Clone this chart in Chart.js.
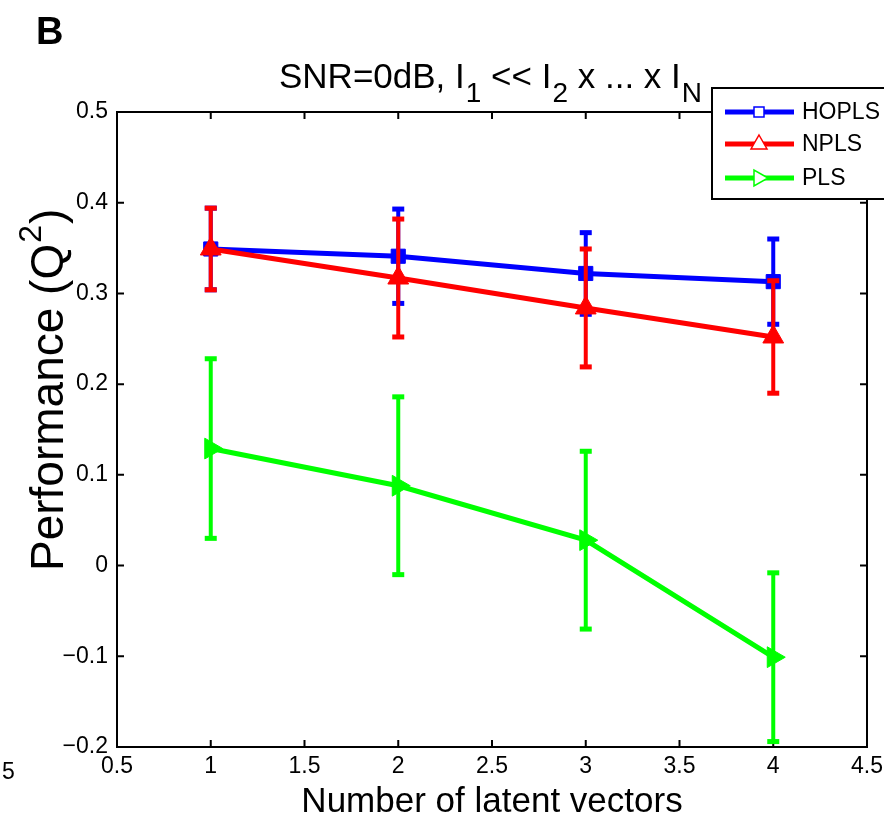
<!DOCTYPE html>
<html>
<head>
<meta charset="utf-8">
<script src="https://cdn.jsdelivr.net/npm/chart.js@4"></script>
<style>
  html, body { margin: 0; padding: 0; background: #fff; }
  #wrap { width: 884px; height: 822px; position: relative; }
</style>
</head>
<body>
<div id="wrap"><canvas id="chart" width="884" height="822"></canvas></div>
<script>
// Data ================================================================================================================
const latentVectors = [1, 2, 3, 4];

const hoplsMean = [0.349, 0.341, 0.322, 0.313];
const hoplsErr  = [0.045, 0.052, 0.045, 0.047];

const nplsMean  = [0.349, 0.317, 0.284, 0.252];
const nplsErr   = [0.045, 0.065, 0.065, 0.062];

const plsMean   = [0.129, 0.088, 0.028, -0.101];
const plsErr    = [0.099, 0.098, 0.098, 0.093];

const xTicks = [0.5, 1, 1.5, 2, 2.5, 3, 3.5, 4, 4.5];
const yTicks = [-0.2, -0.1, 0, 0.1, 0.2, 0.3, 0.4, 0.5];

const seriesNames = ['HOPLS', 'NPLS', 'PLS'];
const seriesColors = ['#0000ff', '#ff0000', '#00ff00'];
const seriesErrors = [hoplsErr, nplsErr, plsErr];
// =====================================================================================================================

const FONT = '"Liberation Sans", Arial, Helvetica, sans-serif';

function fmt(v) {
    const r = Math.round(v * 10) / 10;
    if (r === 0) return '0';
    return (r < 0 ? '\u2212' : '') + String(Math.abs(r));
}

function points(means) {
    return latentVectors.map((x, i) => ({ x: x, y: means[i] }));
}

// error bars, drawn just before each dataset so the later series cover the earlier ones
const errorBars = {
    id: 'errorBars',
    beforeDatasetDraw(chart, args) {
        const ctx = chart.ctx;
        const xs = chart.scales.x, ys = chart.scales.y;
        const ds = chart.data.datasets[args.index];
        const errs = seriesErrors[args.index];
        ctx.save();
        ctx.strokeStyle = ds.borderColor;
        ctx.fillStyle = ds.borderColor;
        ctx.lineWidth = 4;
        ds.data.forEach((p, i) => {
            const px = xs.getPixelForValue(p.x);
            const top = ys.getPixelForValue(p.y + errs[i]);
            const bot = ys.getPixelForValue(p.y - errs[i]);
            ctx.beginPath();
            ctx.moveTo(px, top);
            ctx.lineTo(px, bot);
            ctx.stroke();
            ctx.fillRect(px - 6, top - 2.5, 12, 5);
            ctx.fillRect(px - 6, bot - 2.5, 12, 5);
        });
        ctx.restore();
    }
};

// MATLAB style box with inward ticks, plus title and axis labels
const frame = {
    id: 'frame',
    beforeDatasetsDraw(chart) {
        const ctx = chart.ctx;
        const a = chart.chartArea;
        const xs = chart.scales.x, ys = chart.scales.y;
        ctx.save();
        ctx.strokeStyle = '#000';
        ctx.lineWidth = 2;
        ctx.strokeRect(a.left, a.top, a.right - a.left, a.bottom - a.top);
        ctx.beginPath();
        xTicks.forEach(v => {
            const px = xs.getPixelForValue(v);
            ctx.moveTo(px, a.bottom); ctx.lineTo(px, a.bottom - 7);
            ctx.moveTo(px, a.top); ctx.lineTo(px, a.top + 7);
        });
        yTicks.forEach(v => {
            const py = ys.getPixelForValue(v);
            ctx.moveTo(a.left, py); ctx.lineTo(a.left + 7, py);
            ctx.moveTo(a.right, py); ctx.lineTo(a.right - 7, py);
        });
        ctx.stroke();
        ctx.restore();
    },
    afterDraw(chart) {
        const ctx = chart.ctx;
        const a = chart.chartArea;
        ctx.save();
        ctx.fillStyle = '#000';

        // panel letter
        ctx.font = 'bold 38px ' + FONT;
        ctx.textAlign = 'left';
        ctx.textBaseline = 'alphabetic';
        ctx.fillText('B', 36, 44);

        // title with subscripts
        const parts = [
            ['SNR=0dB, I', 0], ['1', 1], [' << I', 0], ['2', 1], [' x ... x I', 0], ['N', 1]
        ];
        const big = '35px ' + FONT, small = '28px ' + FONT;
        let w = 0;
        parts.forEach(p => { ctx.font = p[1] ? small : big; w += ctx.measureText(p[0]).width; });
        let x = (a.left + a.right) / 2 - w / 2 - 3;
        parts.forEach(p => {
            ctx.font = p[1] ? small : big;
            ctx.fillText(p[0], x + (p[1] ? 1 : 0), p[1] ? 102 : 88);
            x += ctx.measureText(p[0]).width + (p[1] ? 1 : 0);
        });

        // x label
        ctx.font = '35px ' + FONT;
        ctx.textAlign = 'center';
        ctx.fillText('Number of latent vectors', (a.left + a.right) / 2, 812);

        // y label with superscript
        ctx.save();
        ctx.translate(63, 571);
        ctx.rotate(-Math.PI / 2);
        ctx.textAlign = 'left';
        ctx.font = '46px ' + FONT;
        let tx = 0;
        ctx.fillText('Performance (Q', tx, 0);
        tx += ctx.measureText('Performance (Q').width;
        ctx.font = '32px ' + FONT;
        ctx.fillText('2', tx + 1, -22);
        tx += ctx.measureText('2').width + 2;
        ctx.font = '46px ' + FONT;
        ctx.fillText(')', tx, 0);
        ctx.restore();

        // stray tick label from neighbouring panel
        ctx.font = '23px ' + FONT;
        ctx.textAlign = 'left';
        ctx.fillText('5', 2, 779);

        // legend
        const lx = 712, ly = 88, lw = 180, lh = 111;
        ctx.fillStyle = '#fff';
        ctx.fillRect(lx, ly, lw, lh);
        ctx.strokeStyle = '#000';
        ctx.lineWidth = 2;
        ctx.strokeRect(lx, ly, lw, lh);
        const rows = [112, 144, 178];
        seriesNames.forEach((name, i) => {
            const y = rows[i];
            const c = seriesColors[i];
            ctx.strokeStyle = c;
            ctx.lineWidth = 5;
            ctx.beginPath();
            ctx.moveTo(725, y); ctx.lineTo(794, y);
            ctx.stroke();
            // hollow marker
            const mx = 759;
            ctx.fillStyle = '#fff';
            ctx.lineWidth = 1.5;
            ctx.beginPath();
            if (i === 0) {
                ctx.rect(mx - 5, y - 5, 10, 10);
            } else if (i === 1) {
                ctx.moveTo(mx, y - 9); ctx.lineTo(mx + 8, y + 5); ctx.lineTo(mx - 8, y + 5); ctx.closePath();
            } else {
                ctx.moveTo(mx + 9, y); ctx.lineTo(mx - 5, y - 8); ctx.lineTo(mx - 5, y + 8); ctx.closePath();
            }
            ctx.fill();
            ctx.stroke();
            ctx.fillStyle = '#000';
            ctx.font = '23px ' + FONT;
            ctx.textAlign = 'left';
            ctx.textBaseline = 'middle';
            ctx.fillText(name, 802, y + 1);
        });
        ctx.restore();
    }
};

new Chart(document.getElementById('chart'), {
    type: 'line',
    data: {
        datasets: [
            {
                label: 'HOPLS', data: points(hoplsMean), order: 3,
                borderColor: seriesColors[0], backgroundColor: seriesColors[0],
                borderWidth: 5, pointStyle: 'rect', pointRadius: 10, pointBorderWidth: 1
            },
            {
                label: 'NPLS', data: points(nplsMean), order: 2,
                borderColor: seriesColors[1], backgroundColor: seriesColors[1],
                borderWidth: 5, pointStyle: 'triangle', pointRadius: 12, pointBorderWidth: 1
            },
            {
                label: 'PLS', data: points(plsMean), order: 1,
                borderColor: seriesColors[2], backgroundColor: seriesColors[2],
                borderWidth: 5, pointStyle: 'triangle', pointRotation: 90, pointRadius: 12, pointBorderWidth: 1
            }
        ]
    },
    options: {
        responsive: false,
        animation: false,
        layout: { padding: { top: 112, right: 17, left: 0, bottom: 0 } },
        plugins: { legend: { display: false }, tooltip: { enabled: false }, title: { display: false } },
        elements: { line: { tension: 0 } },
        scales: {
            x: {
                type: 'linear', min: 0.5, max: 4.5,
                afterBuildTicks: s => { s.ticks = xTicks.map(v => ({ value: v })); },
                afterFit: s => { s.height = 75; s.paddingLeft = 0; s.paddingRight = 0; },
                grid: { display: false, drawTicks: false },
                border: { display: false },
                ticks: { color: '#000', font: { family: FONT, size: 23 }, padding: 6, maxRotation: 0, autoSkip: false, callback: v => String(v) }
            },
            y: {
                type: 'linear', min: -0.2, max: 0.5,
                afterBuildTicks: s => { s.ticks = yTicks.map(v => ({ value: v })); },
                afterFit: s => { s.width = 117; s.paddingTop = 0; s.paddingBottom = 0; },
                grid: { display: false, drawTicks: false },
                border: { display: false },
                ticks: { color: '#000', font: { family: FONT, size: 23 }, padding: 9, autoSkip: false, callback: v => fmt(v) }
            }
        }
    },
    plugins: [errorBars, frame]
});
</script>
</body>
</html>
